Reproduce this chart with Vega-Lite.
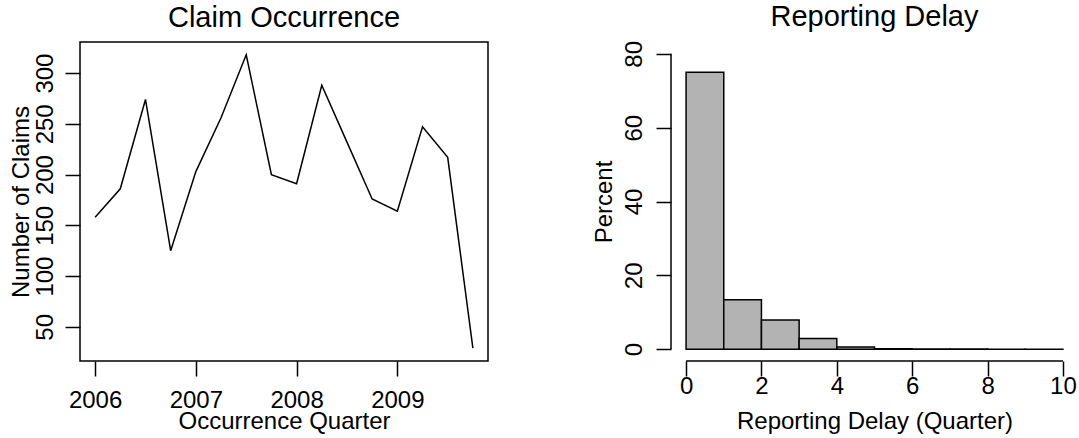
{
  "$schema": "https://vega.github.io/schema/vega-lite/v6.json",
  "background": "white",
  "padding": {"left": 8, "top": 2, "right": 0, "bottom": 0},
  "spacing": 183,
  "bounds": "flush",
  "config": {
    "font": "Liberation Sans",
    "view": {"stroke": null},
    "axis": {
      "grid": false,
      "domain": false,
      "labelFont": "Liberation Sans",
      "labelFontSize": 24,
      "labelColor": "black",
      "labelFlush": false,
      "labelOverlap": false,
      "titleFont": "Liberation Sans",
      "titleFontSize": 24,
      "titleFontWeight": "normal",
      "titleColor": "black",
      "tickColor": "black",
      "tickSize": 15,
      "tickWidth": 1.5
    },
    "title": {
      "font": "Liberation Sans",
      "fontSize": 29,
      "fontWeight": "normal",
      "color": "black",
      "baseline": "alphabetic",
      "offset": 8.9
    }
  },
  "hconcat": [
    {
      "width": 408,
      "height": 319,
      "title": "Claim Occurrence",
      "view": {"stroke": "black", "strokeWidth": 1.5},
      "data": {
        "values": [
          {"quarter": 2006.00, "claims": 158},
          {"quarter": 2006.25, "claims": 186},
          {"quarter": 2006.50, "claims": 274},
          {"quarter": 2006.75, "claims": 125},
          {"quarter": 2007.00, "claims": 203},
          {"quarter": 2007.25, "claims": 256},
          {"quarter": 2007.50, "claims": 318},
          {"quarter": 2007.75, "claims": 200},
          {"quarter": 2008.00, "claims": 191},
          {"quarter": 2008.25, "claims": 288},
          {"quarter": 2008.50, "claims": 232},
          {"quarter": 2008.75, "claims": 176},
          {"quarter": 2009.00, "claims": 164},
          {"quarter": 2009.25, "claims": 247},
          {"quarter": 2009.50, "claims": 217},
          {"quarter": 2009.75, "claims": 29}
        ]
      },
      "mark": {"type": "line", "color": "black", "strokeWidth": 1.5},
      "encoding": {
        "x": {
          "field": "quarter",
          "type": "quantitative",
          "scale": {"domain": [2005.85, 2009.9], "nice": false, "zero": false},
          "axis": {
            "values": [2006, 2007, 2008, 2009],
            "format": "d",
            "title": "Occurrence Quarter",
            "labelBaseline": "alphabetic",
            "labelPadding": 31,
            "titleBaseline": "alphabetic",
            "titleX": 204,
            "titleY": 67
          }
        },
        "y": {
          "field": "claims",
          "type": "quantitative",
          "scale": {"domain": [16.36, 330.64], "nice": false, "zero": false},
          "axis": {
            "values": [50, 100, 150, 200, 250, 300],
            "title": "Number of Claims",
            "labelAngle": 270,
            "labelAlign": "center",
            "labelBaseline": "alphabetic",
            "labelPadding": 13,
            "titleAngle": 270,
            "titleBaseline": "alphabetic",
            "titleX": -52,
            "titleY": 159.5
          }
        }
      }
    },
    {
      "width": 407,
      "height": 319,
      "title": "Reporting Delay",
      "layer": [
        {
          "data": {
            "values": [
              {"lo": 0, "hi": 1, "pct": 75.0},
              {"lo": 1, "hi": 2, "pct": 13.4},
              {"lo": 2, "hi": 3, "pct": 7.9},
              {"lo": 3, "hi": 4, "pct": 2.9},
              {"lo": 4, "hi": 5, "pct": 0.6},
              {"lo": 5, "hi": 6, "pct": 0.12},
              {"lo": 6, "hi": 7, "pct": 0.05},
              {"lo": 7, "hi": 8, "pct": 0.02},
              {"lo": 8, "hi": 9, "pct": 0.01},
              {"lo": 9, "hi": 10, "pct": 0.01}
            ]
          },
          "mark": {"type": "rect", "fill": "#b3b3b3", "stroke": "black", "strokeWidth": 1.5},
          "encoding": {
            "x": {
              "field": "lo",
              "type": "quantitative",
              "scale": {"domain": [-0.4, 10.4], "nice": false, "zero": false},
              "axis": {
                "values": [0, 2, 4, 6, 8, 10],
                "title": "Reporting Delay (Quarter)",
                "labelBaseline": "alphabetic",
                "labelPadding": 17.6,
                "titleBaseline": "alphabetic",
                "titleX": 203.5,
                "titleY": 67
              }
            },
            "x2": {"field": "hi"},
            "y": {
              "field": "pct",
              "type": "quantitative",
              "scale": {"domain": [-3.2, 83.2], "nice": false, "zero": false},
              "axis": {
                "values": [0, 20, 40, 60, 80],
                "title": "Percent",
                "labelAngle": 270,
                "labelAlign": "center",
                "labelBaseline": "alphabetic",
                "labelPadding": 14.8,
                "titleAngle": 270,
                "titleBaseline": "alphabetic",
                "titleX": -60,
                "titleY": 159.5
              }
            },
            "y2": {"datum": 0}
          }
        },
        {
          "data": {"values": [{}]},
          "mark": {"type": "rule", "color": "black", "strokeWidth": 1.5},
          "encoding": {
            "x": {"datum": -0.4},
            "y": {"datum": 0},
            "y2": {"datum": 80}
          }
        },
        {
          "data": {"values": [{}]},
          "mark": {"type": "rule", "color": "black", "strokeWidth": 1.5},
          "encoding": {
            "y": {"datum": -3.2},
            "x": {"datum": 0},
            "x2": {"datum": 10}
          }
        }
      ]
    }
  ]
}
